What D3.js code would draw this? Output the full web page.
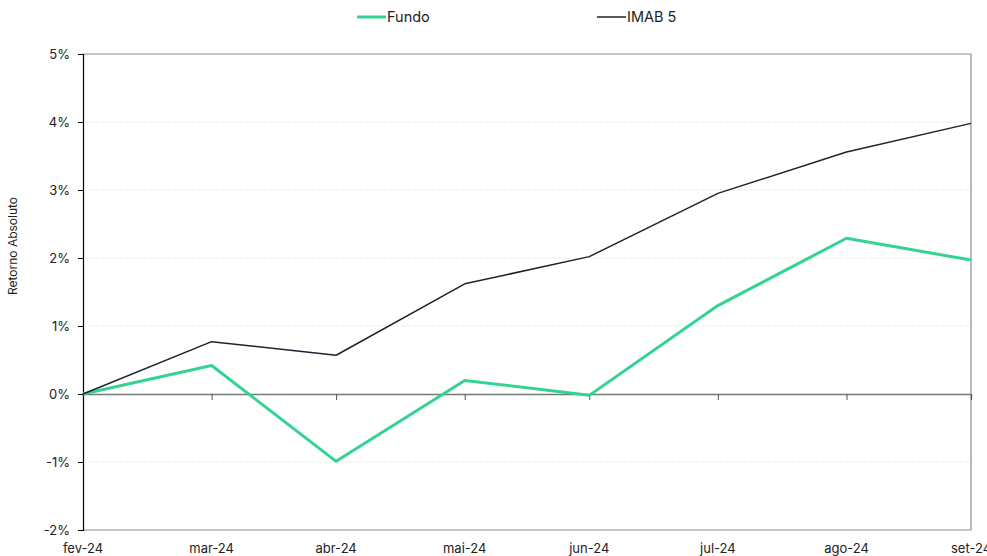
<!DOCTYPE html>
<html><head><meta charset="utf-8">
<script src="https://cdn.jsdelivr.net/npm/d3@7"></script>
<style>body{margin:0;background:#fff;}svg{display:block;font-family:Inter,"Noto Sans",sans-serif;}</style>
</head><body><svg id="c" width="987" height="556"></svg>
<script>
const categories = ["fev-24","mar-24","abr-24","mai-24","jun-24","jul-24","ago-24","set-24"];
const dates = ["2024-02-29","2024-03-31","2024-04-30","2024-05-31","2024-06-30","2024-07-31","2024-08-31","2024-09-30"];
const fundo = [0, 0.42, -0.99, 0.20, -0.02, 1.30, 2.29, 1.97];
const imab5 = [0, 0.77, 0.57, 1.62, 2.02, 2.95, 3.56, 3.98];
const yTicks = [-2,-1,0,1,2,3,4,5];
const seriesNames = ["Fundo","IMAB 5"];
const colors = ["#33d492","#1b2331"];

(function(){
const svg = d3.select("#c");
const pL=83, pR=971, pT=54, pB=530;
const parse = d3.timeParse("%Y-%m-%d");
const xd = dates.map(parse);
const x = d3.scaleTime().domain(d3.extent(xd)).range([pL,pR]);
const y = d3.scaleLinear().domain([-2,5]).range([pB,pT]);

// gridlines
svg.append("g").selectAll("line").data(yTicks.filter(t=>t!==0 && t!==5 && t!==-2)).join("line")
 .attr("x1",pL).attr("x2",pR).attr("y1",d=>y(d)).attr("y2",d=>y(d))
 .attr("stroke","#ebebeb").attr("stroke-dasharray","4,2").attr("stroke-width",1);

// frame
svg.append("line").attr("x1",pL).attr("x2",pR).attr("y1",pT).attr("y2",pT).attr("stroke","#8c8c8c").attr("stroke-width",1.2);
svg.append("line").attr("x1",pR).attr("x2",pR).attr("y1",pT).attr("y2",pB).attr("stroke","#8c8c8c").attr("stroke-width",1.2);
svg.append("line").attr("x1",pL).attr("x2",pR).attr("y1",pB).attr("y2",pB).attr("stroke","#8c8c8c").attr("stroke-width",1.2);

// zero line axis with ticks
const xAxis = d3.axisBottom(x).tickValues(xd).tickSize(6).tickFormat("");
const gx = svg.append("g").attr("transform",`translate(0,${y(0)})`).call(xAxis);
gx.select(".domain").attr("stroke","#777").attr("stroke-width",1.3);
gx.selectAll(".tick line").attr("stroke","#555");

// x labels at bottom
svg.append("g").selectAll("text").data(categories).join("text")
 .attr("x",(d,i)=>x(xd[i])).attr("y",553).attr("text-anchor","middle")
 .attr("font-size",13).attr("fill","#222").text(d=>d);

// y axis
const yAxis = d3.axisLeft(y).tickValues(yTicks).tickSize(5).tickFormat(d=>d+"%");
const gy = svg.append("g").attr("transform",`translate(${pL},0)`).call(yAxis);
gy.select(".domain").attr("stroke","#000").attr("stroke-width",1.2);
gy.selectAll(".tick line").attr("stroke","#000");
gy.selectAll(".tick text").attr("font-size",13).attr("fill","#222").attr("font-family","Inter,'Noto Sans',sans-serif").attr("x",-13);

svg.append("text").attr("transform","translate(17,246) rotate(-90)").attr("text-anchor","middle")
 .attr("font-size",12).attr("fill","#222").text("Retorno Absoluto");

// lines
const line = d3.line().x((d,i)=>x(xd[i])).y(d=>y(d));
svg.append("path").datum(fundo).attr("d",line).attr("fill","none").attr("stroke",colors[0]).attr("stroke-width",3).attr("stroke-linejoin","round");
svg.append("path").datum(imab5).attr("d",line).attr("fill","none").attr("stroke",colors[1]).attr("stroke-width",1.5).attr("stroke-linejoin","round");

// legend
const legX = [357, 597];
const leg = svg.append("g");
seriesNames.forEach((n,i)=>{
  leg.append("line").attr("x1",legX[i]).attr("x2",legX[i]+29).attr("y1",17).attr("y2",17)
   .attr("stroke",colors[i]).attr("stroke-width",i===0?3:1.5);
  leg.append("text").attr("x",legX[i]+30).attr("y",22).attr("font-size",14.5).attr("fill","#222").text(n);
});
})();
</script></body></html>
